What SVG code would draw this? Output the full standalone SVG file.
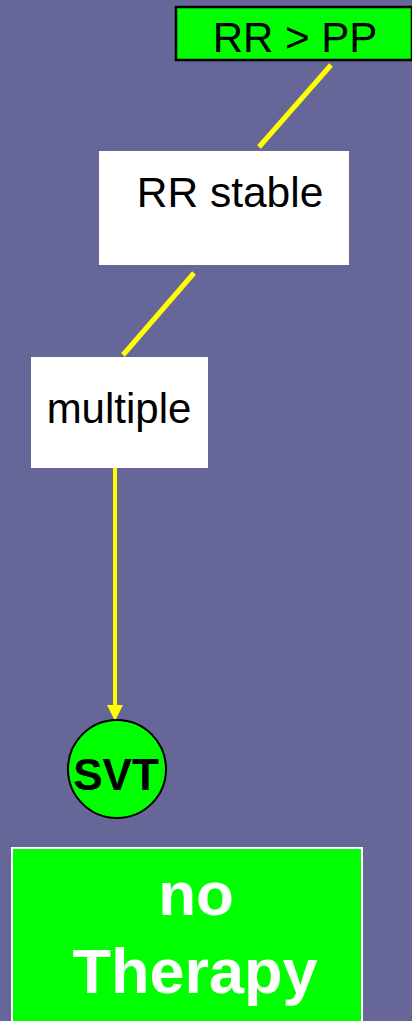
<svg xmlns="http://www.w3.org/2000/svg" width="412" height="1021" viewBox="0 0 412 1021">
<style>
.t{font-family:"Liberation Sans",Arial,sans-serif;fill:#000;text-anchor:middle}
.b{font-weight:bold}
.w{fill:#fff}
.c{stroke:#ffff00;stroke-width:5;fill:none}
</style>
<defs>
<marker id="ah" markerWidth="4" markerHeight="4" refX="4" refY="2" orient="auto" markerUnits="userSpaceOnUse">
<path d="M0,0 L4,2 L0,4 z" fill="#ffff00"/>
</marker>
</defs>
<rect width="412" height="1021" fill="#666699"/>
<g id="connectors">
<line class="c" x1="331" y1="65" x2="259" y2="147"/>
<line class="c" x1="194" y1="273" x2="123" y2="355"/>
<line x1="115" y1="468" x2="115" y2="705" stroke="#ffff00" stroke-width="4"/>
<path d="M107,705 L123,705 L115,721 z" fill="#ffff00"/>
</g>
<g id="node-rrpp">
<rect x="176" y="7" width="236" height="53" fill="#00ff00" stroke="#000" stroke-width="2.5"/>
<text class="t" x="295" y="52" font-size="42">RR &gt; PP</text>
</g>
<g id="node-rrstable">
<rect x="99" y="151" width="250" height="114" fill="#fff"/>
<text class="t" x="230" y="207" font-size="42.5">RR stable</text>
</g>
<g id="node-multiple">
<rect x="31" y="357" width="177" height="111" fill="#fff"/>
<text class="t" x="119" y="423" font-size="42">multiple</text>
</g>
<g id="node-svt">
<circle cx="117" cy="769" r="49" fill="#00ff00" stroke="#000" stroke-width="2"/>
<text class="t b" x="116" y="790" font-size="44">SVT</text>
</g>
<g id="node-therapy">
<rect x="12" y="848" width="350" height="180" fill="#00ff00" stroke="#fff" stroke-width="2"/>
<text class="t b w" x="196" y="915" font-size="62">no</text>
<text class="t b w" x="195" y="993" font-size="63">Therapy</text>
</g>
</svg>
